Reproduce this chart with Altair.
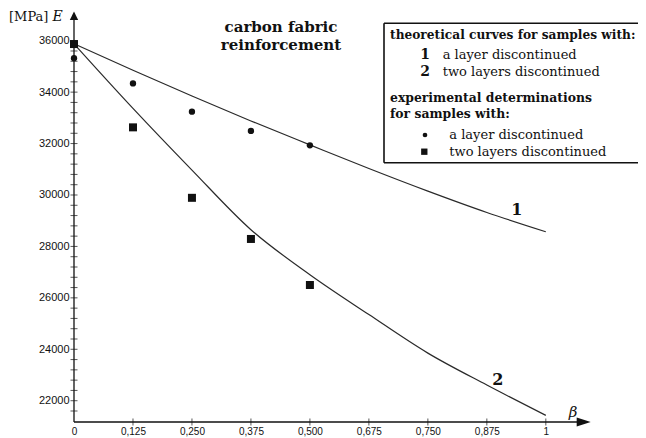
import json
import altair as alt
import pandas as pd

# ---- data ----
beta_grid = [0, 0.125, 0.25, 0.375, 0.5, 0.625, 0.75, 0.875, 1.0]
curve_1 = [35880, 34850, 33850, 32880, 31950, 31030, 30150, 29320, 28570]
curve_2 = [35880, 33370, 30970, 28650, 26900, 25350, 23850, 22610, 21430]
exp_beta = [0, 0.125, 0.25, 0.375, 0.5]
exp_1 = [35320, 34340, 33240, 32490, 31930]
exp_2 = [35870, 32630, 29890, 28290, 26500]
x_tick_labels = ["0", "0,125", "0,250", "0,375", "0,500", "0,675", "0,750", "0,875", "1"]
y_tick_values = [22000, 24000, 26000, 28000, 30000, 32000, 34000, 36000]
y_minor_ticks = list(range(21600, 36001, 400))

W, H = 519, 411
SERIF = "DejaVu Serif"
SANS = "Liberation Sans"

xscale = alt.Scale(domain=[0, 1.1], nice=False, zero=False)
yscale = alt.Scale(domain=[21172, 37155], nice=False, zero=False)

label_expr = json.dumps(x_tick_labels) + "[round(datum.value*8)]"
xaxis = alt.Axis(values=beta_grid, labelExpr=label_expr, domain=False, ticks=False, grid=False,
                 labelFont=SANS, labelFontSize=10, labelPadding=4, labelColor="#111",
                 labelFlush=False, labelOverlap=False, title=None)
yaxis = alt.Axis(values=y_tick_values, format="d", domain=False, ticks=False, grid=False,
                 labelFont=SANS, labelFontSize=11, labelPadding=5, labelColor="#111",
                 labelFlush=False, labelOverlap=False, title=None)

curves = pd.DataFrame({
    "beta": beta_grid * 2,
    "E": curve_1 + curve_2,
    "curve": ["1"] * len(beta_grid) + ["2"] * len(beta_grid),
})
exp1 = pd.DataFrame({"beta": exp_beta, "E": exp_1})
exp2 = pd.DataFrame({"beta": exp_beta, "E": exp_2})
one = pd.DataFrame({"a": [0]})

X = alt.X("beta:Q", scale=xscale, axis=xaxis)
Y = alt.Y("E:Q", scale=yscale, axis=yaxis)

lines = alt.Chart(curves).mark_line(interpolate="monotone", color="#2a2a2a", strokeWidth=1.2).encode(
    x=X, y=Y, detail="curve:N")
pts1 = alt.Chart(exp1).mark_point(shape="circle", filled=True, size=40, color="#111", opacity=1).encode(x=X, y=Y)
pts2 = alt.Chart(exp2).mark_point(shape="square", filled=True, size=64, color="#111", opacity=1).encode(x=X, y=Y)

# axis lines, arrows and crossing ticks
y_line = alt.Chart(one).mark_rule(color="#111", strokeWidth=1.3).encode(
    x=alt.value(0), y=alt.value(8), y2=alt.value(H))
x_line = alt.Chart(one).mark_rule(color="#111", strokeWidth=1.3).encode(
    x=alt.value(0), x2=alt.value(504), y=alt.value(H))
y_arrow = alt.Chart(one).mark_point(shape="M0,-1L1,1L-1,1Z", filled=True, size=70, color="#111", opacity=1).encode(
    x=alt.value(0), y=alt.value(4.8))
x_arrow = alt.Chart(one).mark_point(shape="M1,0L-1,-0.64L-1,0.64Z", filled=True, size=196, color="#111", opacity=1).encode(
    x=alt.value(509.7), y=alt.value(H))
y_ticks = alt.Chart(pd.DataFrame({"E": y_minor_ticks})).mark_tick(orient="horizontal", size=7, thickness=1, color="#111").encode(
    y=alt.Y("E:Q", scale=yscale, axis=yaxis), x=alt.value(0))
x_ticks = alt.Chart(pd.DataFrame({"beta": beta_grid[1:]})).mark_tick(orient="vertical", size=7, thickness=1, color="#111").encode(
    x=alt.X("beta:Q", scale=xscale, axis=xaxis), y=alt.value(H))


def txt(t, x, y, size=12, weight="normal", font=SERIF, align="left", style="normal"):
    return alt.Chart(one).mark_text(font=font, fontSize=size, fontWeight=weight, align=align,
                                    baseline="middle", color="#111", fontStyle=style).encode(
        x=alt.value(x), y=alt.value(y), text=alt.value(t))


# legend frame: white fill, borders on top, left and bottom (runs off the right edge)
BX0, BX1, BY0, BY1 = 310, 640, 12.3, 151.7
legend_fill = alt.Chart(one).mark_rect(fill="white").encode(
    x=alt.value(BX0), x2=alt.value(BX1), y=alt.value(BY0), y2=alt.value(BY1))
border_top = alt.Chart(one).mark_rule(color="#111", strokeWidth=1.6).encode(
    x=alt.value(BX0), x2=alt.value(BX1), y=alt.value(BY0))
border_bot = alt.Chart(one).mark_rule(color="#111", strokeWidth=1.6).encode(
    x=alt.value(BX0), x2=alt.value(BX1), y=alt.value(BY1))
border_left = alt.Chart(one).mark_rule(color="#111", strokeWidth=1.6).encode(
    x=alt.value(BX0), y=alt.value(BY0), y2=alt.value(BY1))
leg_circle = alt.Chart(one).mark_point(shape="circle", filled=True, size=22, color="#111", opacity=1).encode(
    x=alt.value(351), y=alt.value(124))
leg_square = alt.Chart(one).mark_point(shape="square", filled=True, size=40, color="#111", opacity=1).encode(
    x=alt.value(350.3), y=alt.value(140.7))

texts = [
    txt("carbon fabric", 207, 15.7, size=15, weight="bold", align="center"),
    txt("reinforcement", 207, 34, size=15, weight="bold", align="center"),
    txt("theoretical curves for samples with:", 316, 24, size=12.2, weight="bold"),
    txt("1", 351, 44, size=14, weight="bold", align="center"),
    txt("a layer discontinued", 368.7, 44, size=13),
    txt("2", 351, 61.3, size=14, weight="bold", align="center"),
    txt("two layers discontinued", 368.7, 61.3, size=13),
    txt("experimental determinations", 316, 86.7, size=12.4, weight="bold"),
    txt("for samples with:", 316, 103.3, size=12.4, weight="bold"),
    txt("a layer discontinued", 375.3, 124, size=13),
    txt("two layers discontinued", 375.3, 140.7, size=13),
    txt("1", 442.7, 199, size=16, weight="bold", align="center"),
    txt("2", 423.7, 369, size=16, weight="bold", align="center"),
    txt("β", 499, 401, size=15, style="italic", align="center"),
    txt("[MPa]", -65, 5.7, size=13),
    txt("E", -16.5, 5.7, size=14, style="italic", align="center"),
]

chart = alt.layer(
    lines, y_ticks, x_ticks, y_line, x_line, y_arrow, x_arrow, pts1, pts2,
    legend_fill, border_top, border_bot, border_left, leg_circle, leg_square, *texts
).properties(
    width=W, height=H,
    autosize=alt.AutoSizeParams(type="none"),
    padding={"left": 66, "top": 3, "right": 45, "bottom": 16},
    background="white",
).configure_view(stroke=None)

chart.save("out.html", embed_options={"renderer": "svg", "actions": False})
